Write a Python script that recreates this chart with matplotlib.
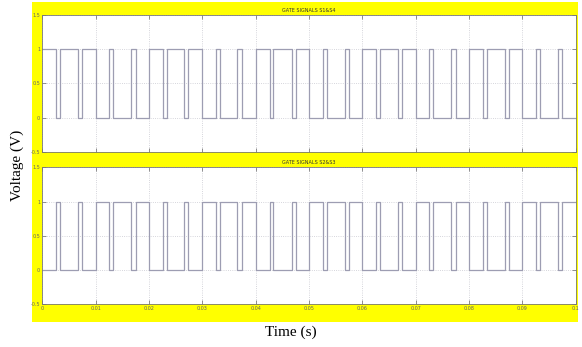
import numpy as np
import matplotlib
matplotlib.use("Agg")
import matplotlib.pyplot as plt
from matplotlib.patches import Rectangle

# switching instants (ms), signal toggles at each one
top_edges_ms = [2.5, 3.3, 6.7, 7.4, 10.0, 12.5, 13.3, 16.6, 17.5, 20.0,
                22.6, 23.3, 26.6, 27.4, 30.0, 32.5, 33.3, 36.6, 37.5, 40.0,
                42.7, 43.3, 46.8, 47.5, 50.0, 52.6, 53.3, 56.7, 57.5, 60.0,
                62.6, 63.4, 66.7, 67.5, 70.0, 72.6, 73.3, 76.7, 77.5, 80.0,
                82.6, 83.4, 86.7, 87.5, 90.0, 92.6, 93.4, 96.7, 97.5]
top_start = 1

bottom_edges_ms = [2.5, 3.3, 6.7, 7.4, 10.0, 12.5, 13.3, 16.6, 17.5, 20.0,
                   22.6, 23.3, 26.6, 27.4, 30.0, 32.5, 33.3, 36.6, 37.5, 40.0,
                   42.7, 43.3, 46.8, 47.5, 50.0, 52.6, 53.3, 56.7, 57.5, 60.0,
                   62.6, 63.4, 66.7, 67.5, 70.0, 72.6, 73.3, 76.7, 77.5, 80.0,
                   82.6, 83.4, 86.7, 87.5, 90.0, 92.6, 93.4, 96.7, 97.5]
bottom_start = 0

titles = ["GATE SIGNALS S1&S4", "GATE SIGNALS S2&S3"]
x_ticks = [0, 0.01, 0.02, 0.03, 0.04, 0.05, 0.06, 0.07, 0.08, 0.09, 0.1]
x_ticklabels = ["0", "0.01", "0.02", "0.03", "0.04", "0.05", "0.06", "0.07", "0.08", "0.09", "0.1"]
y_ticks = [-0.5, 0, 0.5, 1, 1.5]
y_ticklabels = ["-0.5", "0", "0.5", "1", "1.5"]
T_END = 0.1


def square_wave(edges_ms, start):
    t = [0.0] + [e / 1000.0 for e in edges_ms] + [T_END]
    v = []
    level = start
    for _ in range(len(t) - 1):
        v.append(level)
        level = 1 - level
    v.append(v[-1])
    return t, v


fig = plt.figure(figsize=(5.82, 3.47), dpi=100)
fig.patch.set_facecolor("white")
fig.add_artist(Rectangle((32 / 582, 1 - 322 / 347), 546 / 582, 320 / 347,
                         transform=fig.transFigure, facecolor="#ffff00",
                         edgecolor="none", zorder=0))

line_color = "#9d9db2"
positions = [[0.0727, 0.5628, 0.9163, 0.394], [0.0727, 0.1231, 0.9163, 0.3948]]
signals = [(top_edges_ms, top_start), (bottom_edges_ms, bottom_start)]

for i, (pos, (edges, start)) in enumerate(zip(positions, signals)):
    ax = fig.add_axes(pos)
    ax.set_facecolor("white")
    t, v = square_wave(edges, start)
    ax.step(t, v, where="post", color=line_color, lw=0.9)
    ax.set_xlim(0, T_END)
    ax.set_ylim(-0.5, 1.5)
    ax.set_xticks(x_ticks)
    ax.set_yticks(y_ticks)
    ax.set_yticklabels(y_ticklabels, fontsize=3.5, color="#444444")
    if i == 1:
        ax.set_xticklabels(x_ticklabels, fontsize=3.5, color="#444444")
    else:
        ax.set_xticklabels([])
    ax.tick_params(direction="in", length=3, width=0.5, pad=1.5,
                   top=True, right=True, colors="#666666")
    ax.grid(True, color="#c8c8d0", lw=0.6, ls=":")
    for s in ax.spines.values():
        s.set_color("#777777")
        s.set_linewidth(0.6)
    ax.set_title(titles[i], fontsize=3.5, color="#333333", pad=2.5)

fig.text(0.029, 0.524, "Voltage (V)", rotation=90, ha="center", va="center",
         fontsize=11, family="Liberation Serif")
fig.text(0.5, 0.043, "Time (s)", ha="center", va="center",
         fontsize=11, family="Liberation Serif")

fig.savefig("out.png", dpi=100)
